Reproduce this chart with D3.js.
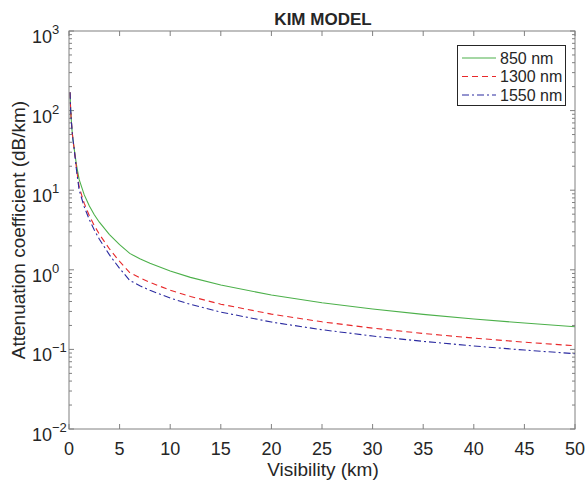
<!DOCTYPE html>
<html><head><meta charset="utf-8">
<script src="https://cdn.jsdelivr.net/npm/d3@7"></script>
<style>body{margin:0;background:#fff}text{font-family:"Liberation Sans",Arial,sans-serif;fill:#262626}</style>
</head><body><svg id="c" width="588" height="484"></svg>
<script>
const visibility = [0.1,0.15,0.2,0.3,0.4,0.5,0.75,1,1.5,2,2.5,3,4,5,6,7,8,10,12,15,20,25,30,35,40,45,50];
const att850  = [169.8,113.2,84.9,56.6,42.45,33.96,20.31,13.66,8.795,6.370,4.922,3.961,2.771,2.067,1.607,1.377,1.205,0.9641,0.8034,0.6427,0.4821,0.3856,0.3214,0.2755,0.2410,0.2143,0.1928];
const att1300 = [169.8,113.2,84.9,56.6,42.45,33.96,18.26,11.04,6.874,4.812,3.594,2.796,1.827,1.274,0.9249,0.7928,0.6937,0.5549,0.4624,0.3699,0.2775,0.2220,0.1850,0.1585,0.1387,0.1233,0.1110];
const att1550 = [169.8,113.2,84.9,56.6,42.45,33.96,17.47,10.12,6.207,4.285,3.156,2.420,1.538,1.042,0.7358,0.6307,0.5519,0.4415,0.3679,0.2943,0.2207,0.1766,0.1472,0.1261,0.1104,0.0981,0.0883];
const seriesNames = ["850 nm","1300 nm","1550 nm"];
const xTicks = [0,5,10,15,20,25,30,35,40,45,50];
const yExps = [-2,-1,0,1,2,3];

const svg = d3.select("#c");
const L=69,R=575,T=31,B=429;
const x = d3.scaleLinear().domain([0,50]).range([L,R]);
const y = d3.scaleLog().domain([0.01,1000]).range([B,T]);
const axisCol="#808080";
const g = svg.append("g");

const minors=[];
for(let e=-2;e<3;e++) for(let m=2;m<=9;m++) minors.push(m*Math.pow(10,e));
minors.forEach(v=>{
  g.append("line").attr("x1",L).attr("x2",L+3).attr("y1",y(v)).attr("y2",y(v)).attr("stroke",axisCol);
  g.append("line").attr("x1",R).attr("x2",R-3).attr("y1",y(v)).attr("y2",y(v)).attr("stroke",axisCol);
});
yExps.forEach(e=>{
  const v=Math.pow(10,e);
  g.append("line").attr("x1",L).attr("x2",L+5).attr("y1",y(v)).attr("y2",y(v)).attr("stroke",axisCol);
  g.append("line").attr("x1",R).attr("x2",R-5).attr("y1",y(v)).attr("y2",y(v)).attr("stroke",axisCol);
  g.append("text").attr("x",52).attr("y",y(v)+12).attr("text-anchor","end").attr("font-size",18).text("10");
  g.append("text").attr("x",52).attr("y",y(v)+3).attr("text-anchor","start").attr("font-size",13).text(e<0?"\u2212"+(-e):String(e));
});
xTicks.forEach(v=>{
  g.append("line").attr("x1",x(v)).attr("x2",x(v)).attr("y1",B).attr("y2",B-5).attr("stroke",axisCol);
  g.append("line").attr("x1",x(v)).attr("x2",x(v)).attr("y1",T).attr("y2",T+5).attr("stroke",axisCol);
  g.append("text").attr("x",x(v)).attr("y",B+26).attr("text-anchor","middle").attr("font-size",18).text(v);
});

const line = d3.line().x(d=>x(d[0])).y(d=>y(d[1]));
const cols=["#4cb04a","#e8292b","#2a2aa0"];
const dashes=[null,"6,4","7,3,2,3"];
[att850,att1300,att1550].forEach((s,i)=>{
  svg.append("path").datum(visibility.map((v,j)=>[v,s[j]])).attr("d",line)
    .attr("fill","none").attr("stroke",cols[i]).attr("stroke-width",1.1).attr("stroke-dasharray",dashes[i]);
});

svg.append("rect").attr("x",L).attr("y",T).attr("width",R-L).attr("height",B-T).attr("fill","none").attr("stroke",axisCol);

const lg=svg.append("g");
lg.append("rect").attr("x",457.5).attr("y",45.5).attr("width",108).attr("height",60).attr("fill","#fff").attr("stroke","#262626");
seriesNames.forEach((n,i)=>{
  const yy=58+i*18.5;
  lg.append("line").attr("x1",462).attr("x2",496).attr("y1",yy).attr("y2",yy).attr("stroke",cols[i]).attr("stroke-width",1.1).attr("stroke-dasharray",dashes[i]);
  lg.append("text").attr("x",500).attr("y",yy+5.5).attr("font-size",16).text(n);
});

svg.append("text").attr("x",323).attr("y",25).attr("text-anchor","middle").attr("font-size",17).attr("font-weight","bold").text("KIM MODEL");
svg.append("text").attr("x",323).attr("y",476).attr("text-anchor","middle").attr("font-size",19).text("Visibility (km)");
svg.append("text").attr("transform","translate(25,230) rotate(-90)").attr("text-anchor","middle").attr("font-size",19).text("Attenuation coefficient (dB/km)");
</script></body></html>
